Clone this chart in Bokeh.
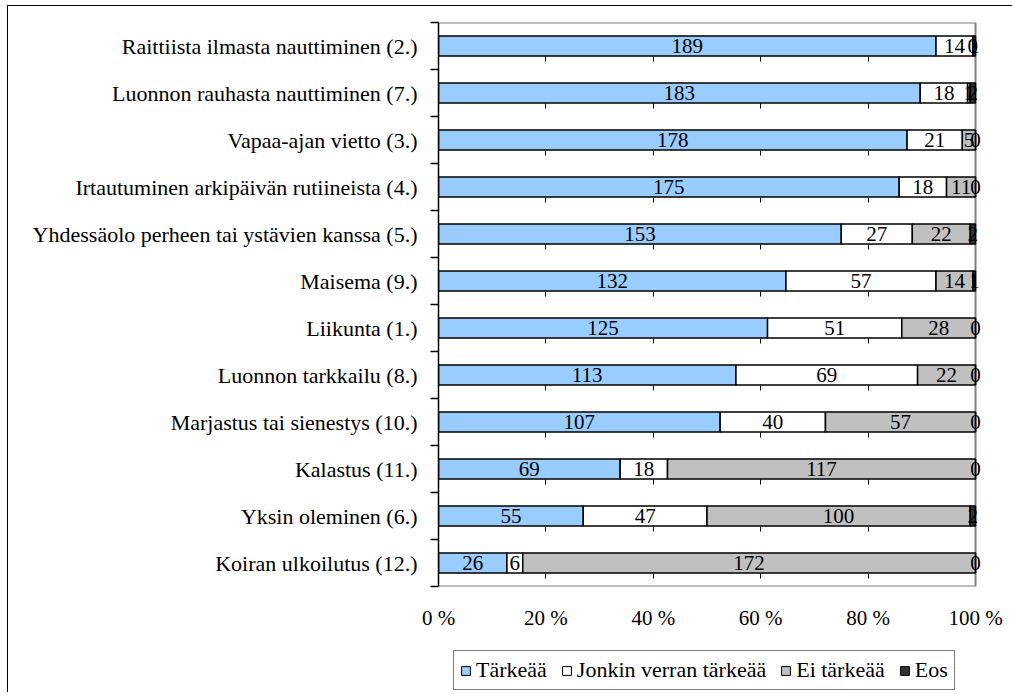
from bokeh.plotting import figure
from bokeh.layouts import column
from bokeh.models import ColumnDataSource, FixedTicker, Legend, LegendItem
from bokeh.core.properties import value
from bokeh.embed import file_html
from bokeh.resources import INLINE

categories = [
    "Raittiista ilmasta nauttiminen (2.)",
    "Luonnon rauhasta nauttiminen (7.)",
    "Vapaa-ajan vietto (3.)",
    "Irtautuminen arkipäivän rutiineista (4.)",
    "Yhdessäolo perheen tai ystävien kanssa (5.)",
    "Maisema (9.)",
    "Liikunta (1.)",
    "Luonnon tarkkailu (8.)",
    "Marjastus tai sienestys (10.)",
    "Kalastus (11.)",
    "Yksin oleminen (6.)",
    "Koiran ulkoilutus (12.)",
]
tarkeaa = [189, 183, 178, 175, 153, 132, 125, 113, 107, 69, 55, 26]
jonkin = [14, 18, 21, 18, 27, 57, 51, 69, 40, 18, 47, 6]
ei_tarkeaa = [0, 1, 5, 11, 22, 14, 28, 22, 57, 117, 100, 172]
eos = [1, 2, 0, 0, 2, 1, 0, 0, 0, 0, 2, 0]

series_names = ["Tärkeää", "Jonkin verran tärkeää", "Ei tärkeää", "Eos"]
series_vals = [tarkeaa, jonkin, ei_tarkeaa, eos]
colors = ["#99CCFF", "#FFFFFF", "#C0C0C0", "#333333"]
x_ticks = [0, 0.2, 0.4, 0.6, 0.8, 1.0]
x_tick_labels = ["0 %", "20 %", "40 %", "60 %", "80 %", "100 %"]

FONT = "Liberation Serif"
FS = "21px"
FS_CAT = "22px"
n = len(categories)
ypos = [n - 0.5 - i for i in range(n)]
totals = [sum(v[i] for v in series_vals) for i in range(n)]
keys = ["s0", "s1", "s2", "s3"]
data = {"y": ypos}
for k, vals in zip(keys, series_vals):
    data[k] = [vals[i] / totals[i] for i in range(n)]
source = ColumnDataSource(data)

FW = 548  # frame width; 537 px correspond to 0..100 %
x_end = FW / 537.0

p = figure(width=1004, height=628, output_backend="svg", toolbar_location=None,
           x_range=(0, x_end), y_range=(0, n),
           min_border_left=430, min_border_top=16, min_border_right=26, min_border_bottom=48)
p.outline_line_color = None

# plot-area border (grey) at top, right, bottom of the 0..100 % area
p.segment(x0=[0, 1, 0], y0=[n, 0, 0], x1=[1, 1, 1], y1=[n, n, 0],
          line_color="#808080", line_width=2)

renderers = p.hbar_stack(keys, y="y", height=0.43, color=colors, line_color="black",
                         line_width=1.5, source=source)

# labels
lx, ly, lt = [], [], []
for i in range(n):
    start = 0.0
    for vals in series_vals:
        frac = vals[i] / totals[i]
        lx.append(start + frac / 2)
        ly.append(ypos[i])
        lt.append(str(vals[i]))
        start += frac
p.text(x=lx, y=ly, text=lt, text_align="center", text_baseline="middle",
       text_font=value(FONT), text_font_size=FS, text_color="black")

# grid
p.ygrid.grid_line_color = None
p.xgrid.ticker = FixedTicker(ticks=x_ticks[1:-1])
p.xgrid.grid_line_color = "black"
p.xgrid.grid_line_dash = "5 42"
p.xgrid.grid_line_dash_offset = 39

# x axis
p.xaxis.ticker = FixedTicker(ticks=x_ticks)
p.xaxis.major_label_overrides = {t: l for t, l in zip(x_ticks, x_tick_labels)}
p.xaxis.axis_line_color = None
p.xaxis.major_tick_line_color = None
p.xaxis.minor_tick_line_color = None
p.xaxis.major_label_standoff = 13
p.xaxis.major_label_text_font = FONT
p.xaxis.major_label_text_font_size = FS
p.xaxis.major_label_text_color = "black"

# y axis
p.yaxis.ticker = FixedTicker(ticks=ypos, minor_ticks=list(range(n + 1)))
p.yaxis.major_label_overrides = {y: c for y, c in zip(ypos, categories)}
p.yaxis.major_tick_line_color = None
p.yaxis.minor_tick_out = 8
p.yaxis.minor_tick_in = 0
p.yaxis.minor_tick_line_color = "black"
p.yaxis.minor_tick_line_width = 1.5
p.yaxis.axis_line_color = "black"
p.yaxis.axis_line_width = 1.5
p.yaxis.major_label_standoff = 13
p.yaxis.major_label_text_font = FONT
p.yaxis.major_label_text_font_size = FS_CAT
p.yaxis.major_label_text_color = "black"

# legend figure (holds the legend only)
p2 = figure(width=1004, height=58, output_backend="svg", toolbar_location=None,
            x_range=(0, x_end), y_range=(100, 101), x_axis_location=None, y_axis_location=None,
            min_border_left=430, min_border_top=0, min_border_right=26, min_border_bottom=0)
p2.outline_line_color = None
p2.grid.grid_line_color = None
leg_renderers = p2.hbar_stack(keys, y="y", height=0.43, color=colors, line_color="black",
                              line_width=1, source=source)
legend = Legend(items=[LegendItem(label=nm, renderers=[r]) for nm, r in zip(series_names, leg_renderers)],
                orientation="horizontal", location=(15, 2))
legend.label_text_font = FONT
legend.label_text_font_size = FS_CAT
legend.label_text_color = "black"
legend.glyph_width = 11
legend.glyph_height = 11
legend.label_standoff = 5
legend.spacing = 14
legend.padding = 6
legend.margin = 0
legend.border_line_color = "black"
legend.border_line_width = 1
legend.background_fill_alpha = 1
p2.add_layout(legend, "center")

layout = column(p, p2, spacing=0,
                styles={"margin-left": "7px", "margin-top": "5px",
                        "border-top": "1px solid black", "border-left": "1px solid black"})

open("out.html", "w").write(file_html(layout, INLINE))
